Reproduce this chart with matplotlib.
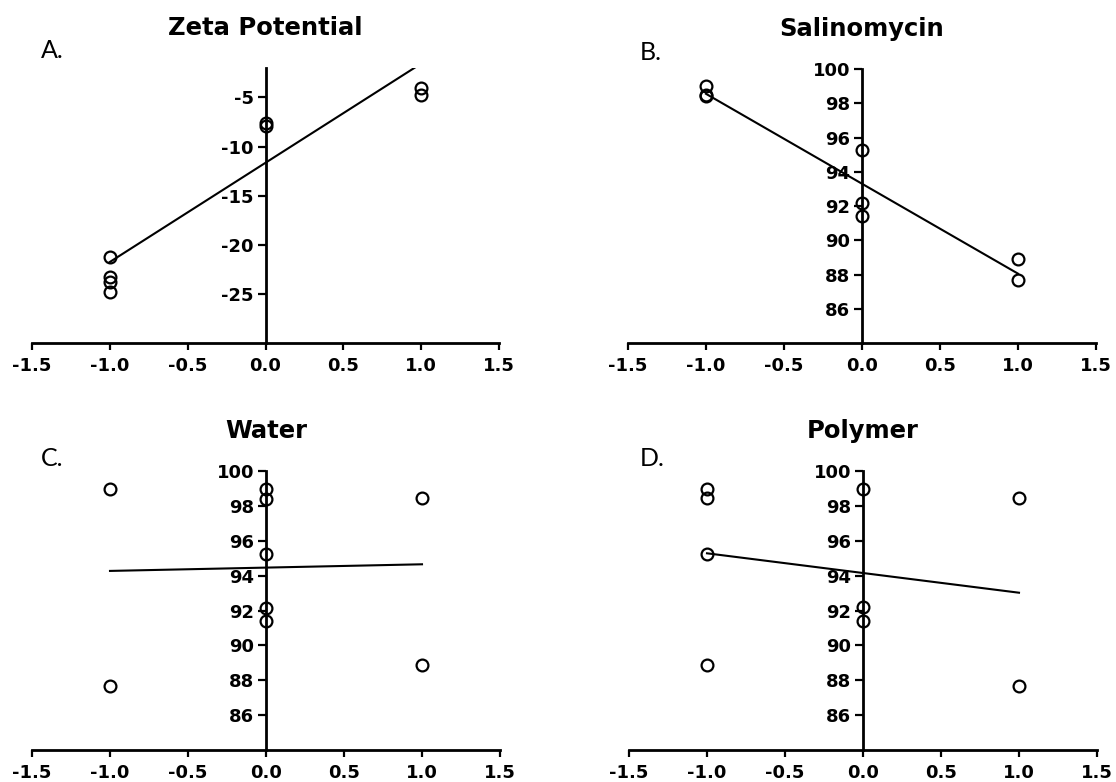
import numpy as np
import matplotlib
matplotlib.use("Agg")
import matplotlib.pyplot as plt

plt.rcParams["axes.unicode_minus"] = False

# panel A: zeta potential (mV)
zeta_x = [-1, -1, -1, -1, 0, 0, 1, 1]
zeta_y = [-21.2, -23.3, -23.8, -24.8, -7.6, -7.9, -4.0, -4.7]
zeta_fit = [10.1, -11.65]  # slope, intercept

# panel B: salinomycin
sal_x = [-1, -1, -1, 0, 0, 0, 1, 1]
sal_y = [99.0, 98.5, 98.4, 95.25, 92.15, 91.4, 88.9, 87.7]
sal_fit = [-5.25, 93.3]

# panel C: water
water_x = [-1, -1, 0, 0, 0, 0, 0, 1, 1]
water_y = [98.98, 87.67, 98.95, 98.37, 95.24, 92.14, 91.37, 98.47, 88.88]
water_fit = [0.19, 94.46]

# panel D: polymer
poly_x = [-1, -1, -1, -1, 0, 0, 0, 1, 1]
poly_y = [98.94, 98.43, 95.26, 88.88, 98.94, 92.18, 91.38, 98.43, 87.67]
poly_fit = [-1.13, 94.15]

titles = ["Zeta Potential", "Salinomycin", "Water", "Polymer"]
letters = ["A.", "B.", "C.", "D."]
xticks = [-1.5, -1.0, -0.5, 0.0, 0.5, 1.0, 1.5]

W, H = 1116, 782
fig = plt.figure(figsize=(W / 100, H / 100), dpi=100)

def px_axes(x0, x1, ytop, ybot):
    return fig.add_axes([x0 / W, 1 - ybot / H, (x1 - x0) / W, (ybot - ytop) / H])

axA = px_axes(32, 499, 68, 343)
axB = px_axes(628, 1096, 69, 343)
axC = px_axes(32, 500, 471, 750)
axD = px_axes(629, 1097, 471, 750)

panels = [
    (axA, zeta_x, zeta_y, zeta_fit, (-30, -2), [-25, -20, -15, -10, -5]),
    (axB, sal_x, sal_y, sal_fit, (84, 100), list(range(86, 101, 2))),
    (axC, water_x, water_y, water_fit, (84, 100), list(range(86, 101, 2))),
    (axD, poly_x, poly_y, poly_fit, (84, 100), list(range(86, 101, 2))),
]

for i, (ax, xs, ys, fit, ylim, yt) in enumerate(panels):
    fx = np.array([-1.0, 1.0])
    ax.plot(fx, fit[0] * fx + fit[1], color="black", lw=1.5, zorder=2)
    ax.plot(xs, ys, linestyle="none", marker="o", markersize=8.5,
            markerfacecolor="none", markeredgecolor="black",
            markeredgewidth=1.6, zorder=3, clip_on=False)
    ax.set_xlim(-1.5, 1.5)
    ax.set_ylim(*ylim)
    ax.set_xticks(xticks)
    ax.set_xticklabels([f"{t:.1f}" for t in xticks])
    ax.set_yticks(yt)
    ax.set_yticklabels([str(t) for t in yt])
    ax.spines["top"].set_visible(False)
    ax.spines["right"].set_visible(False)
    ax.spines["left"].set_position(("data", 0))
    for s in ("left", "bottom"):
        ax.spines[s].set_linewidth(2.0)
    ax.tick_params(axis="x", direction="out", length=5, width=1.6, pad=5)
    ax.tick_params(axis="y", direction="out", length=5.5, width=1.6, pad=3)
    for lab in ax.get_xticklabels() + ax.get_yticklabels():
        lab.set_fontsize(13)
        lab.set_fontweight("bold")
        lab.set_family("DejaVu Sans")
    ax.set_title(titles[i], fontsize=17.5, fontweight="bold",
                 family="DejaVu Sans", pad=23.5)
    ax.patch.set_visible(False)

# panel letters
for (lx, ly), txt in zip([(41, 58), (640, 60), (41, 466), (640, 466)], letters):
    fig.text(lx / W, 1 - ly / H, txt, fontsize=18, family="Lato",
             ha="left", va="baseline")

fig.savefig("out.png", dpi=100)
